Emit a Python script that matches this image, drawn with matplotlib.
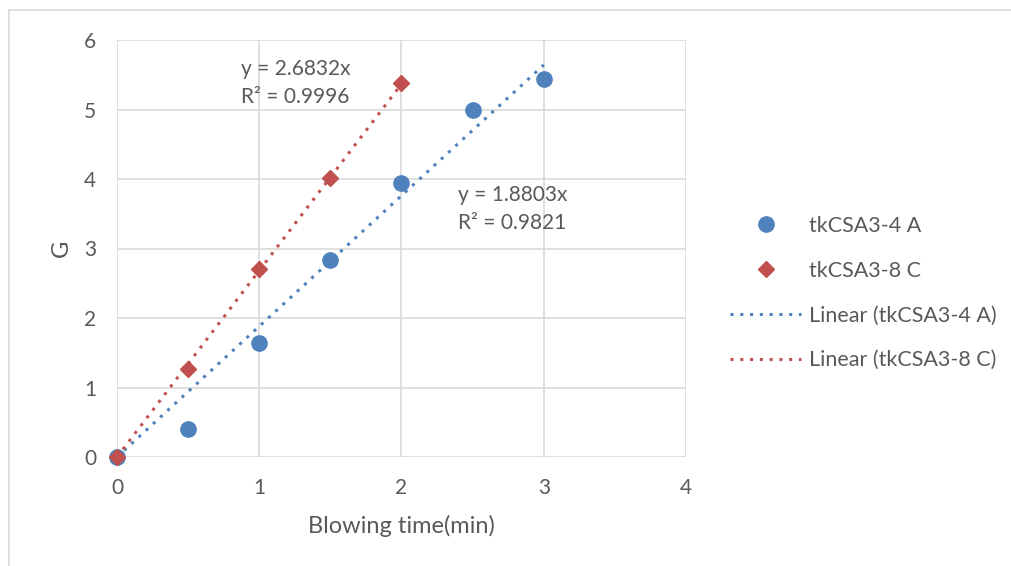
import matplotlib.pyplot as plt
import numpy as np
from matplotlib.lines import Line2D
from matplotlib.patches import Rectangle

# data
time_a = np.array([0, 0.5, 1, 1.5, 2, 2.5, 3])
g_a = np.array([0, 0.41, 1.64, 2.84, 3.94, 4.99, 5.44])
time_c = np.array([0, 0.5, 1, 1.5, 2])
g_c = np.array([0, 1.27, 2.70, 4.02, 5.38])

labels = ['tkCSA3-4 A', 'tkCSA3-8 C', 'Linear (tkCSA3-4 A)', 'Linear (tkCSA3-8 C)']
eq_a = ['y = 1.8803x', 'R² = 0.9821']
eq_c = ['y = 2.6832x', 'R² = 0.9996']

blue = '#4F81BD'
red = '#C0504D'
grey = '#595959'

plt.rcParams['font.family'] = ['Lato', 'DejaVu Sans']

W, H = 1012, 566
fig = plt.figure(figsize=(W / 100, H / 100), dpi=100)
# outer chart border (cropped screenshot)
fig.patches.append(Rectangle((9 / W, -0.1), 1.2, 1 - 10 / H + 0.1, transform=fig.transFigure,
                             fill=False, edgecolor='#D9D9D9', linewidth=1.2))

ax = fig.add_axes([117 / W, (H - 457) / H, (686 - 117) / W, (457 - 40) / H])

# trendlines forced through origin (least squares)
slope_a = np.sum(time_a * g_a) / np.sum(time_a ** 2)
slope_c = np.sum(time_c * g_c) / np.sum(time_c ** 2)
ax.plot(time_a, slope_a * time_a, color=blue, linestyle=(0, (1, 2.2)), linewidth=2.2, zorder=2)
ax.plot(time_c, slope_c * time_c, color=red, linestyle=(0, (1, 2.2)), linewidth=2.2, zorder=2)

ax.plot(time_a, g_a, 'o', color=blue, markersize=11, zorder=3, clip_on=False)
ax.plot(time_c, g_c, 'D', color=red, markersize=8.5, zorder=4, clip_on=False)

ax.set_xlim(0, 4)
ax.set_ylim(0, 6)
ax.set_xticks(range(0, 5))
ax.set_yticks(range(0, 7))
ax.grid(True, color='#D9D9D9', linewidth=1.2)
ax.set_axisbelow(True)
for s in ax.spines.values():
    s.set_visible(False)
ax.tick_params(length=0, labelsize=15, labelcolor=grey)
ax.tick_params(axis='x', pad=15)
ax.tick_params(axis='y', pad=15)
ax.set_xlabel('Blowing time(min)', fontsize=17, color=grey, labelpad=12)
ax.set_ylabel('G', fontsize=17, color=grey, labelpad=9)

ax.text(0.87, 5.38, eq_c[0] + '\n' + eq_c[1], fontsize=15, color=grey, linespacing=1.5, va='center')
ax.text(2.4, 3.57, eq_a[0] + '\n' + eq_a[1], fontsize=15, color=grey, linespacing=1.5, va='center')

handles = [
    Line2D([], [], marker='o', color=blue, linestyle='none', markersize=11),
    Line2D([], [], marker='D', color=red, linestyle='none', markersize=8.5),
    Line2D([], [], color=blue, linestyle=(0, (1, 2.2)), linewidth=2.2),
    Line2D([], [], color=red, linestyle=(0, (1, 2.2)), linewidth=2.2),
]
fig.legend(handles, labels, loc='center left', bbox_to_anchor=(711 / W, (H - 293) / H),
           frameon=False, fontsize=15.5, labelcolor=grey, handlelength=3.3,
           handletextpad=0.35, labelspacing=1.15)

fig.savefig('out.png', dpi=100)
